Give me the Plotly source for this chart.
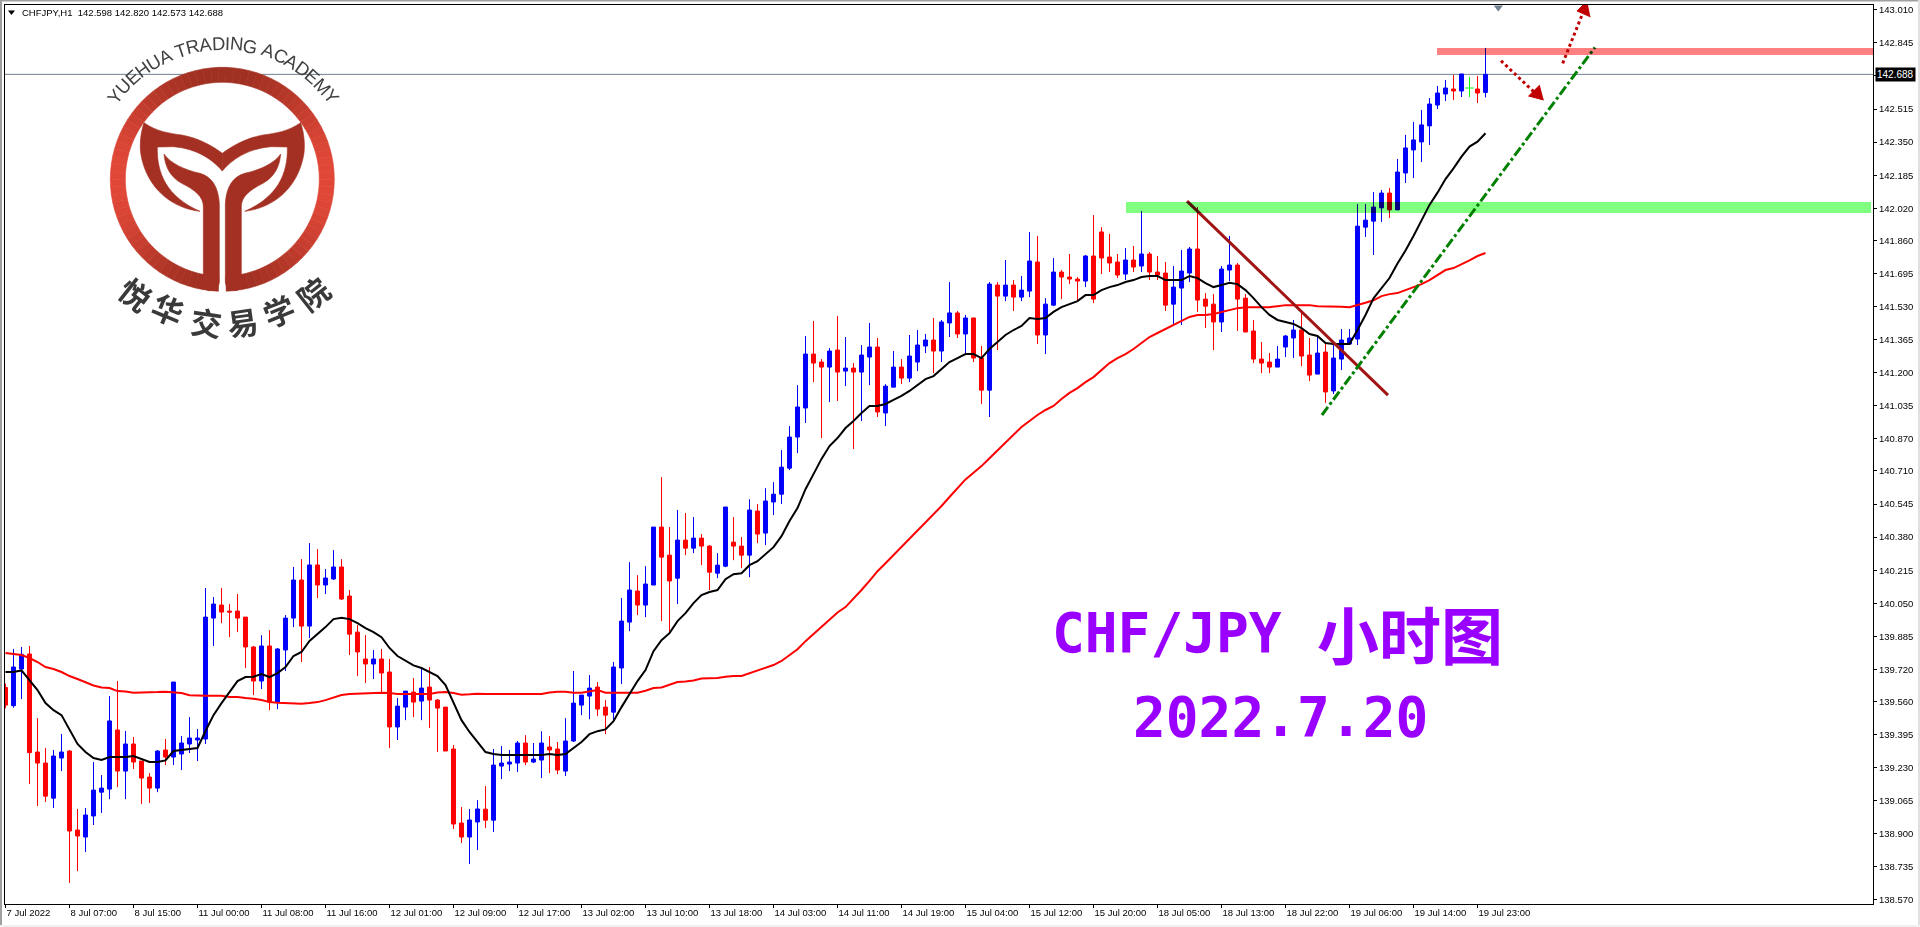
import math

import numpy as np
import plotly.graph_objects as go

# hourly CHFJPY candles, one column per bar
opens = [
    139.630, 139.539, 139.722, 139.797, 139.308, 139.253, 139.078, 139.278, 139.313, 138.919,
    138.884, 138.989, 139.108, 139.123, 139.418, 139.213, 139.348, 139.263, 139.183, 139.128,
    139.318, 139.283, 139.298, 139.348, 139.368, 139.373, 139.976, 140.041, 140.011, 140.011,
    139.981, 139.832, 139.662, 139.837, 139.557, 139.817, 139.976, 140.166, 139.936, 140.241,
    140.141, 140.171, 140.231, 140.086, 139.906, 139.772, 139.747, 139.772, 139.707, 139.433,
    139.532, 139.607, 139.562, 139.632, 139.567, 139.532, 139.323, 138.954, 138.884, 138.959,
    139.023, 138.968, 139.238, 139.248, 139.253, 139.353, 139.258, 139.268, 139.333, 139.323,
    139.213, 139.363, 139.542, 139.587, 139.632, 139.532, 139.507, 139.727, 139.956, 140.111,
    140.041, 140.141, 140.430, 140.290, 140.175, 140.365, 140.325, 140.375, 140.335, 140.200,
    140.235, 140.355, 140.335, 140.290, 140.510, 140.400, 140.555, 140.594, 140.724, 140.879,
    141.024, 141.293, 141.253, 141.228, 141.313, 141.208, 141.223, 141.203, 141.278, 141.328,
    140.999, 141.128, 141.228, 141.173, 141.253, 141.333, 141.363, 141.308, 141.448, 141.498,
    141.393, 141.473, 141.273, 141.113, 141.637, 141.582, 141.637, 141.577, 141.607, 141.752,
    141.388, 141.537, 141.702, 141.677, 141.667, 141.657, 141.782, 141.902, 141.777, 141.752,
    141.692, 141.762, 141.732, 141.792, 141.702, 141.697, 141.542, 141.622, 141.697, 141.817,
    141.567, 141.542, 141.453, 141.712, 141.737, 141.572, 141.408, 141.268, 141.253, 141.228,
    141.328, 141.373, 141.413, 141.288, 141.193, 141.303, 141.109, 141.268, 141.343, 141.368,
    141.926, 141.956, 142.022, 142.096, 142.012, 142.196, 142.311, 142.351, 142.431, 142.535,
    142.590, 142.615, 142.605, 142.620, 142.615, 142.598,
]
highs = [
    139.650, 139.822, 139.832, 139.837, 139.477, 139.328, 139.318, 139.398, 139.318, 139.024,
    139.029, 139.258, 139.193, 139.587, 139.662, 139.413, 139.383, 139.263, 139.203, 139.318,
    139.373, 139.657, 139.388, 139.482, 139.423, 140.126, 140.081, 140.126, 140.046, 140.096,
    139.981, 139.837, 139.891, 139.916, 139.827, 139.991, 140.231, 140.270, 140.350, 140.320,
    140.221, 140.315, 140.270, 140.116, 139.941, 139.891, 139.817, 139.822, 139.772, 139.577,
    139.612, 139.677, 139.732, 139.732, 139.572, 139.532, 139.343, 139.034, 139.024, 139.068,
    139.138, 139.323, 139.338, 139.318, 139.363, 139.392, 139.353, 139.412, 139.387, 139.358,
    139.477, 139.712, 139.592, 139.692, 139.657, 139.567, 139.757, 140.076, 140.255, 140.190,
    140.235, 140.430, 140.679, 140.430, 140.515, 140.500, 140.480, 140.395, 140.340, 140.300,
    140.530, 140.480, 140.380, 140.569, 140.545, 140.624, 140.654, 140.814, 140.934, 141.138,
    141.383, 141.458, 141.268, 141.323, 141.483, 141.378, 141.248, 141.338, 141.448, 141.373,
    141.143, 141.308, 141.268, 141.388, 141.413, 141.393, 141.473, 141.463, 141.652, 141.508,
    141.488, 141.473, 141.333, 141.652, 141.652, 141.762, 141.662, 141.682, 141.902, 141.882,
    141.572, 141.772, 141.712, 141.792, 141.677, 141.787, 141.986, 141.926, 141.892, 141.792,
    141.822, 141.832, 142.006, 141.802, 141.782, 141.752, 141.732, 141.812, 141.827, 142.026,
    141.597, 141.592, 141.732, 141.882, 141.747, 141.592, 141.463, 141.353, 141.298, 141.333,
    141.388, 141.463, 141.503, 141.373, 141.383, 141.353, 141.343, 141.418, 141.418, 142.041,
    142.041, 142.101, 142.111, 142.121, 142.266, 142.386, 142.451, 142.510, 142.570, 142.630,
    142.660, 142.685, 142.690, 142.675, 142.680, 142.820,
]
lows = [
    139.526, 139.529, 139.572, 139.148, 139.039, 139.059, 139.029, 139.213, 138.655, 138.714,
    138.809, 138.944, 139.004, 139.073, 139.133, 139.073, 139.223, 139.049, 139.054, 139.108,
    139.243, 139.243, 139.218, 139.303, 139.263, 139.348, 139.837, 139.951, 139.881, 139.906,
    139.727, 139.592, 139.622, 139.517, 139.522, 139.712, 139.931, 139.757, 139.876, 140.076,
    140.096, 140.166, 140.066, 139.792, 139.687, 139.652, 139.672, 139.607, 139.328, 139.368,
    139.467, 139.482, 139.467, 139.428, 139.308, 139.313, 138.924, 138.854, 138.749, 138.819,
    138.929, 138.909, 139.173, 139.213, 139.208, 139.243, 139.253, 139.178, 139.203, 139.198,
    139.188, 139.358, 139.492, 139.472, 139.487, 139.397, 139.462, 139.647, 139.911, 139.991,
    139.981, 140.141, 139.961, 139.906, 140.046, 140.290, 140.300, 140.240, 140.116, 140.175,
    140.230, 140.265, 140.225, 140.180, 140.350, 140.340, 140.490, 140.545, 140.714, 140.799,
    140.949, 141.153, 140.874, 141.054, 141.059, 141.133, 140.819, 140.959, 141.138, 140.979,
    140.934, 141.128, 141.143, 141.153, 141.208, 141.298, 141.198, 141.253, 141.378, 141.373,
    141.298, 141.253, 141.044, 140.979, 141.313, 141.557, 141.508, 141.557, 141.577, 141.343,
    141.293, 141.532, 141.567, 141.642, 141.557, 141.627, 141.547, 141.692, 141.702, 141.672,
    141.662, 141.702, 141.702, 141.662, 141.662, 141.508, 141.438, 141.438, 141.652, 141.503,
    141.423, 141.313, 141.403, 141.657, 141.408, 141.403, 141.248, 141.198, 141.198, 141.228,
    141.278, 141.273, 141.233, 141.158, 141.193, 141.049, 141.094, 141.213, 141.338, 141.338,
    141.877, 141.787, 141.952, 141.972, 142.012, 142.146, 142.171, 142.251, 142.336, 142.515,
    142.555, 142.560, 142.575, 142.575, 142.545, 142.573,
]
closes = [
    139.542, 139.732, 139.795, 139.305, 139.253, 139.088, 139.288, 139.308, 138.914, 138.889,
    138.994, 139.118, 139.128, 139.463, 139.213, 139.348, 139.258, 139.178, 139.128, 139.313,
    139.283, 139.657, 139.353, 139.378, 139.378, 139.981, 140.046, 140.006, 140.006, 139.976,
    139.832, 139.662, 139.837, 139.557, 139.822, 139.976, 140.166, 139.936, 140.241, 140.141,
    140.176, 140.231, 140.071, 139.896, 139.807, 139.747, 139.772, 139.702, 139.433, 139.537,
    139.612, 139.557, 139.627, 139.567, 139.527, 139.313, 138.949, 138.884, 138.969, 139.024,
    138.968, 139.243, 139.253, 139.258, 139.353, 139.258, 139.273, 139.353, 139.318, 139.218,
    139.363, 139.552, 139.592, 139.627, 139.522, 139.492, 139.732, 139.961, 140.116, 140.041,
    140.146, 140.430, 140.280, 140.161, 140.365, 140.325, 140.375, 140.335, 140.205, 140.240,
    140.530, 140.335, 140.290, 140.515, 140.395, 140.560, 140.594, 140.729, 140.879, 141.029,
    141.293, 141.248, 141.228, 141.308, 141.203, 141.223, 141.203, 141.288, 141.328, 141.004,
    141.133, 141.228, 141.173, 141.283, 141.338, 141.363, 141.308, 141.453, 141.498, 141.393,
    141.473, 141.273, 141.113, 141.642, 141.582, 141.637, 141.577, 141.612, 141.757, 141.388,
    141.542, 141.702, 141.677, 141.667, 141.657, 141.782, 141.567, 141.772, 141.747, 141.687,
    141.762, 141.727, 141.792, 141.702, 141.687, 141.537, 141.627, 141.707, 141.817, 141.562,
    141.532, 141.453, 141.717, 141.737, 141.567, 141.403, 141.268, 141.248, 141.228, 141.268,
    141.383, 141.413, 141.283, 141.188, 141.298, 141.104, 141.273, 141.363, 141.373, 141.931,
    141.961, 142.026, 142.096, 142.012, 142.201, 142.321, 142.361, 142.436, 142.540, 142.595,
    142.620, 142.605, 142.690, 142.620, 142.595, 142.688,
]
ma_fast = [
    139.707, 139.707, 139.715, 139.667, 139.617, 139.552, 139.517, 139.492, 139.418, 139.348,
    139.308, 139.278, 139.268, 139.283, 139.283, 139.283, 139.288, 139.273, 139.258, 139.258,
    139.266, 139.313, 139.318, 139.323, 139.328, 139.413, 139.492, 139.552, 139.607, 139.662,
    139.682, 139.684, 139.697, 139.682, 139.702, 139.732, 139.787, 139.807, 139.862, 139.896,
    139.931, 139.971, 139.978, 139.971, 139.951, 139.926, 139.906, 139.881, 139.827, 139.787,
    139.762, 139.740, 139.727, 139.707, 139.687, 139.642, 139.557, 139.467, 139.408, 139.358,
    139.308, 139.298, 139.293, 139.293, 139.293, 139.293, 139.293, 139.293, 139.298, 139.293,
    139.298, 139.328, 139.358, 139.397, 139.412, 139.421, 139.462, 139.532, 139.597, 139.662,
    139.717, 139.811, 139.866, 139.901, 139.961, 140.001, 140.051, 140.091, 140.106, 140.116,
    140.170, 140.195, 140.200, 140.240, 140.260, 140.295, 140.330, 140.385, 140.460, 140.525,
    140.619, 140.694, 140.770, 140.834, 140.874, 140.924, 140.959, 140.999, 141.034, 141.034,
    141.044, 141.064, 141.084, 141.109, 141.138, 141.168, 141.183, 141.218, 141.253, 141.273,
    141.293, 141.293, 141.273, 141.318, 141.353, 141.388, 141.413, 141.433, 141.473, 141.468,
    141.473, 141.503, 141.527, 141.542, 141.557, 141.587, 141.587, 141.612, 141.627, 141.637,
    141.652, 141.662, 141.677, 141.682, 141.682, 141.662, 141.662, 141.662, 141.682, 141.672,
    141.647, 141.627, 141.637, 141.649, 141.642, 141.612, 141.572, 141.527, 141.488, 141.463,
    141.453, 141.443, 141.423, 141.393, 141.383, 141.348, 141.343, 141.343, 141.343, 141.413,
    141.488, 141.571, 141.621, 141.672, 141.745, 141.809, 141.882, 141.962, 142.037, 142.098,
    142.166, 142.219, 142.278, 142.328, 142.352, 142.394,
]
ma_slow = [
    139.802, 139.797, 139.792, 139.777, 139.757, 139.732, 139.722, 139.707, 139.687, 139.672,
    139.657, 139.640, 139.630, 139.627, 139.612, 139.610, 139.604, 139.604, 139.604, 139.607,
    139.609, 139.607, 139.602, 139.591, 139.589, 139.589, 139.589, 139.589, 139.582, 139.582,
    139.577, 139.574, 139.567, 139.557, 139.554, 139.552, 139.549, 139.549, 139.552, 139.557,
    139.567, 139.581, 139.592, 139.597, 139.599, 139.602, 139.604, 139.604, 139.602, 139.597,
    139.597, 139.597, 139.596, 139.597, 139.605, 139.607, 139.602, 139.594, 139.596, 139.599,
    139.597, 139.597, 139.600, 139.597, 139.597, 139.597, 139.597, 139.597, 139.605, 139.609,
    139.609, 139.604, 139.604, 139.609, 139.617, 139.604, 139.604, 139.604, 139.604, 139.604,
    139.614, 139.627, 139.630, 139.643, 139.657, 139.660, 139.665, 139.675, 139.677, 139.677,
    139.683, 139.687, 139.687, 139.700, 139.713, 139.727, 139.742, 139.762, 139.791, 139.821,
    139.861, 139.896, 139.931, 139.966, 140.004, 140.031, 140.072, 140.116, 140.162, 140.210,
    140.250, 140.290, 140.330, 140.370, 140.410, 140.450, 140.490, 140.535, 140.580, 140.623,
    140.668, 140.701, 140.734, 140.773, 140.812, 140.854, 140.889, 140.929, 140.959, 140.989,
    141.014, 141.034, 141.069, 141.099, 141.123, 141.153, 141.178, 141.213, 141.248, 141.273,
    141.293, 141.318, 141.348, 141.378, 141.398, 141.418, 141.438, 141.458, 141.478, 141.488,
    141.488, 141.493, 141.503, 141.513, 141.522, 141.526, 141.527, 141.527, 141.527, 141.532,
    141.537, 141.537, 141.537, 141.537, 141.532, 141.532, 141.532, 141.529, 141.527, 141.537,
    141.549, 141.561, 141.582, 141.592, 141.597, 141.612, 141.627, 141.642, 141.662, 141.687,
    141.712, 141.722, 141.740, 141.760, 141.782, 141.797,
]

x_tick_bars = list(range(0, 185, 8))
x_tick_labels = [
    "7 Jul 2022", "8 Jul 07:00", "8 Jul 15:00", "11 Jul 00:00", "11 Jul 08:00", "11 Jul 16:00",
    "12 Jul 01:00", "12 Jul 09:00", "12 Jul 17:00", "13 Jul 02:00", "13 Jul 10:00", "13 Jul 18:00",
    "14 Jul 03:00", "14 Jul 11:00", "14 Jul 19:00", "15 Jul 04:00", "15 Jul 12:00", "15 Jul 20:00",
    "18 Jul 05:00", "18 Jul 13:00", "18 Jul 22:00", "19 Jul 06:00", "19 Jul 14:00", "19 Jul 23:00",
]
y_ticks = [
    143.010, 142.845, 142.680, 142.515, 142.350, 142.185, 142.020, 141.860, 141.695, 141.530,
    141.365, 141.200, 141.035, 140.870, 140.710, 140.545, 140.380, 140.215, 140.050, 139.885,
    139.720, 139.560, 139.395, 139.230, 139.065, 138.900, 138.735, 138.570,
]
last_price = 142.688

# hand drawn objects on the chart, in bar index / price
green_zone = (140.06, 233.2, 141.996, 142.051)
red_zone = (178.94, 233.44, 142.784, 142.819)
down_trend = ([147.69, 172.81], [142.056, 141.088])
up_trend = ([164.56, 198.69], [140.989, 142.823])
arrow_down = ([186.94, 191.06], [142.756, 142.600])
arrow_down_head = ([192.28, 190.39, 191.78], [142.560, 142.580, 142.635])
arrow_up = ([194.65, 197.06], [142.743, 142.984])
arrow_up_head = ([197.71, 196.44, 198.11], [143.054, 143.004, 142.975])

W, H = 1920, 927
L, R, T, B = 5, 1873, 5, 904
BAR_PX = 8
X_RANGE = [(L - 5.5) / BAR_PX, (R - 5.5) / BAR_PX]
Y_RANGE = [138.550, 143.034]


def px_x(px):
    return (px - L) / (R - L)


def px_y(py):
    return 1 - (py - T) / (B - T)


def path_from_px(cmds):
    # cmds: list of (letter, x1, y1, ...), given in screen pixels
    out = []
    for c in cmds:
        coords = []
        for k in range(1, len(c), 2):
            coords.append(f"{px_x(c[k]):.5f},{px_y(c[k + 1]):.5f}")
        out.append(c[0] + " ".join(coords))
    return " ".join(out) + " Z"


def blank_shape(path, color):
    return dict(type="path", xref="paper", yref="paper", path=path, fillcolor=color,
                line=dict(color=color, width=0.6))


bars = np.arange(len(opens))
o, h, l, c = map(np.array, (opens, highs, lows, closes))
is_doji = o == c

fig = go.Figure()
fig.add_trace(go.Candlestick(
    x=bars[~is_doji], open=o[~is_doji], high=h[~is_doji], low=l[~is_doji], close=c[~is_doji],
    increasing=dict(line=dict(color="#0000FF", width=1), fillcolor="#0000FF"),
    decreasing=dict(line=dict(color="#FF0000", width=1), fillcolor="#FF0000"),
    hoverinfo="skip",
))
fig.add_trace(go.Scatter(
    x=bars[is_doji], y=c[is_doji], mode="markers",
    marker=dict(symbol="line-ew", size=6, line=dict(color="#00FF00", width=1)),
    error_y=dict(type="data", symmetric=False, array=(h - c)[is_doji], arrayminus=(c - l)[is_doji],
                 color="#00FF00", thickness=1, width=0),
))
fig.add_trace(go.Scatter(x=bars, y=ma_slow, mode="lines", line=dict(color="#FF0000", width=2)))
fig.add_trace(go.Scatter(x=bars, y=ma_fast, mode="lines", line=dict(color="#000000", width=2)))

fig.add_trace(go.Scatter(x=down_trend[0], y=down_trend[1], mode="lines",
                         line=dict(color="#A01414", width=3)))
fig.add_trace(go.Scatter(x=up_trend[0], y=up_trend[1], mode="lines",
                         line=dict(color="#008000", width=3, dash="10px,3px,3px,3px")))
for line_xy, head_xy in ((arrow_down, arrow_down_head), (arrow_up, arrow_up_head)):
    fig.add_trace(go.Scatter(x=line_xy[0], y=line_xy[1], mode="lines", cliponaxis=False,
                             line=dict(color="#C00000", width=3, dash="3px,3px")))
    fig.add_trace(go.Scatter(x=head_xy[0], y=head_xy[1], mode="lines", fill="toself", cliponaxis=False,
                             fillcolor="#C00000", line=dict(color="#C00000", width=1)))
# small grey marker at the top of the chart where the chart shift sits
fig.add_trace(go.Scatter(x=[186.6], y=[143.022], mode="markers", cliponaxis=False,
                         marker=dict(symbol="triangle-down", size=8, color="#708090")))

shapes = [
    dict(type="line", xref="paper", yref="y", x0=0, x1=1, y0=last_price, y1=last_price,
         line=dict(color="#708090", width=1), layer="below"),
    dict(type="rect", xref="x", yref="y", x0=green_zone[0], x1=green_zone[1], y0=green_zone[2],
         y1=green_zone[3], fillcolor="#80FF80", line=dict(width=0)),
    dict(type="rect", xref="x", yref="y", x0=red_zone[0], x1=red_zone[1], y0=red_zone[2],
         y1=red_zone[3], fillcolor="#FF8080", line=dict(width=0)),
]

# window frame around the chart
for x0, y0, x1, y1, color in ((0, 0, W, 1.5, "#A0A0A0"), (0, 0, 2, H, "#A0A0A0"),
                              (W - 2, 0, W, H, "#E0E0E0"), (0, H - 2, W, H, "#F0F0F0")):
    shapes.append(dict(type="rect", xref="paper", yref="paper", x0=px_x(x0), x1=px_x(x1),
                       y0=px_y(y0), y1=px_y(y1), fillcolor=color, line=dict(width=0)))
shapes.append(dict(type="path", xref="paper", yref="paper", fillcolor="#000000", line=dict(width=0),
                   path=path_from_px([("M", 8, 10.5), ("L", 15, 10.5), ("L", 11.5, 15)])))

# academy logo: ring in small sectors so it can darken toward the middle, open at the bottom
CX, CY, R_OUT, R_IN = 222.3, 179.3, 112, 97
for deg in range(2, 358, 4):
    a0, a1 = math.radians(deg), math.radians(deg + 4)
    mid = abs(math.sin((a0 + a1) / 2)) ** 2.2
    color = "#%02X%02X%02X" % (int(160 + 66 * mid), int(48 + 24 * mid), int(34 + 22 * mid))
    pts = [(CX + R_OUT * math.sin(a0), CY + R_OUT * math.cos(a0)),
           (CX + R_OUT * math.sin(a1), CY + R_OUT * math.cos(a1)),
           (CX + R_IN * math.sin(a1), CY + R_IN * math.cos(a1)),
           (CX + R_IN * math.sin(a0), CY + R_IN * math.cos(a0))]
    shapes.append(blank_shape(path_from_px([("M", *pts[0]), ("L", *pts[1]), ("L", *pts[2]), ("L", *pts[3])]),
                              color))


def logo_path(side):
    # drawn in 3x zoom units of the left half, mirrored about the ring centre for the right half
    def m(x, y):
        if side > 0:
            x = 2 * 667 - x
        return (x / 3, y / 3)

    def cmd(letter, *pts):
        flat = []
        for p in pts:
            flat.extend(m(*p))
        return (letter, *flat)

    wing = [cmd("M", (432, 368)), cmd("C", (470, 395), (510, 400), (545, 405)),
            cmd("C", (600, 415), (640, 440), (667, 460)), cmd("L", (667, 513)),
            cmd("C", (640, 480), (590, 445), (520, 440)), cmd("L", (472, 441)),
            cmd("C", (470, 520), (500, 590), (600, 634)),
            cmd("C", (520, 625), (440, 570), (422, 460)), cmd("C", (418, 420), (425, 390), (432, 368))]
    stem = [cmd("M", (658, 845)), cmd("L", (658, 610)), cmd("C", (655, 560), (635, 530), (600, 520)),
            cmd("C", (555, 510), (510, 490), (492, 462)), cmd("C", (495, 500), (510, 530), (545, 550)),
            cmd("C", (585, 570), (610, 590), (610, 620)), cmd("L", (610, 823)),
            cmd("L", (590, 850)), cmd("L", (625, 872)), cmd("C", (645, 868), (658, 860), (658, 845))]
    return path_from_px(wing), path_from_px(stem)


for side in (-1, 1):
    for p in logo_path(side):
        shapes.append(blank_shape(p, "#A33022"))

annotations = [
    dict(xref="paper", yref="paper", x=px_x(20), y=px_y(12.5), xanchor="left", yanchor="middle",
         showarrow=False, text="CHFJPY,H1  142.598 142.820 142.573 142.688",
         font=dict(family="Liberation Sans", size=9.5, color="#000000")),
    dict(xref="paper", yref="y", x=px_x(1874.5), y=last_price, xanchor="left", yanchor="middle",
         showarrow=False, text="142.688", bgcolor="#000000", borderpad=1,
         font=dict(family="Liberation Sans", size=10, color="#FFFFFF")),
]

# arc lettering of the logo, one rotated character at a time
ARC_TEXT = "YUEHUA TRADING ACADEMY"
ARC_WIDTHS = {"A": .667, "C": .722, "D": .722, "E": .667, "G": .778, "H": .722, "I": .278, "M": .833,
              "N": .722, "R": .722, "T": .611, "U": .722, "Y": .667, " ": .278}
ARC_SIZE, ARC_R = 18.5, 136
total = sum(ARC_WIDTHS[ch] for ch in ARC_TEXT) * ARC_SIZE
pos = -total / 2
for ch in ARC_TEXT:
    w = ARC_WIDTHS[ch] * ARC_SIZE
    ang = (pos + w / 2) / ARC_R
    pos += w
    if ch == " ":
        continue
    annotations.append(dict(
        xref="paper", yref="paper", x=px_x(CX + 1 + ARC_R * math.sin(ang)), y=px_y(CY - ARC_R * math.cos(ang)),
        xanchor="center", yanchor="middle", showarrow=False, text=ch, textangle=math.degrees(ang),
        font=dict(family="Liberation Sans", size=ARC_SIZE, color="#404040")))

LOGO_CN = [("悦", 136, 293, 38), ("华", 168, 308, 22), ("交", 206, 321, 8),
           ("易", 243, 321, -8), ("学", 278, 310, -22), ("院", 312, 293, -38)]
for ch, px, py, angle in LOGO_CN:
    annotations.append(dict(
        xref="paper", yref="paper", x=px_x(px), y=px_y(py), xanchor="center", yanchor="middle",
        showarrow=False, text=f"<b>{ch}</b>", textangle=angle,
        font=dict(family="Noto Sans CJK SC", size=31, color="#3A3A3A")))

# big purple caption
PURPLE = "#9900FF"
for text, px, py, family, size in (("<b>CHF/JPY</b>", 1050, 633, "DejaVu Sans Mono", 54.5),
                                   ("<b>小时图</b>", 1315, 633, "Noto Sans CJK SC", 62),
                                   ("<b>2022.7.20</b>", 1131, 717, "DejaVu Sans Mono", 54.5)):
    annotations.append(dict(xref="paper", yref="paper", x=px_x(px), y=px_y(py), xanchor="left",
                            yanchor="middle", showarrow=False, text=text,
                            font=dict(family=family, size=size, color=PURPLE)))

tick_font = dict(family="Liberation Sans", size=9.5, color="#000000")
y_labels = ["" if v == 142.680 else f"{v:.3f}" for v in y_ticks]

fig.update_layout(
    width=W, height=H, autosize=False,
    margin=dict(l=L, r=W - R, t=T, b=H - B),
    paper_bgcolor="#FFFFFF", plot_bgcolor="#FFFFFF",
    showlegend=False, hovermode=False,
    shapes=shapes, annotations=annotations,
    xaxis=dict(
        range=X_RANGE, rangeslider=dict(visible=False), showgrid=False, zeroline=False,
        showline=True, linecolor="#000000", linewidth=1, mirror=True,
        tickmode="array", tickvals=x_tick_bars, ticktext=x_tick_labels,
        ticks="outside", ticklen=3, tickcolor="#000000", tickwidth=1,
        ticklabelposition="outside right", tickfont=tick_font, tickangle=0,
    ),
    yaxis=dict(
        range=Y_RANGE, side="right", showgrid=False, zeroline=False,
        showline=True, linecolor="#000000", linewidth=1, mirror=True,
        tickmode="array", tickvals=y_ticks, ticktext=y_labels,
        ticks="outside", ticklen=3, tickcolor="#000000", tickwidth=1,
        tickfont=tick_font,
    ),
)

# page without margins, and zones that tint the candles under them like the terminal does
post_js = """
document.body.style.margin = '0';
document.documentElement.style.overflow = 'hidden';
document.querySelectorAll('.shapelayer path').forEach(function (el) {
    var fill = el.style.fill;
    if (fill === 'rgb(128, 255, 128)' || fill === 'rgb(255, 128, 128)') {
        (el.closest('.shape-group') || el).style.mixBlendMode = 'multiply';
    }
});
"""
fig.write_html("out.html", post_script=post_js, config=dict(displayModeBar=False))
